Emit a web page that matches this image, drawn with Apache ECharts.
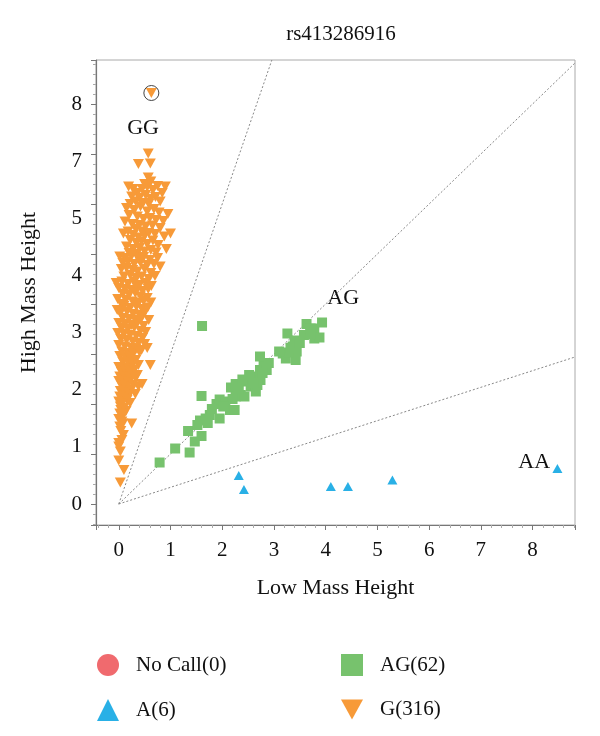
<!DOCTYPE html>
<html>
<head>
<meta charset="utf-8">
<title>rs413286916</title>
<script src="https://cdn.jsdelivr.net/npm/echarts@6/dist/echarts.min.js"></script>
<style>
  html, body { margin: 0; padding: 0; background: #fff; }
  #chart { width: 600px; height: 736px; }
</style>
</head>
<body>
<div id="chart"></div>
<script>
// genotype cluster plot
const chartTitle = 'rs413286916'
const xName = 'Low Mass Height'
const yName = 'High Mass Height'

// printed y tick labels (the figure skips 6)
const yTickLabels = ['0', '1', '2', '3', '4', '5', '7', '8']

const noCall = []

const aPoints = [
  [2.32, 0.57], [2.42, 0.29], [4.10, 0.35], [4.43, 0.35], [5.29, 0.48], [8.48, 0.71]
]

const agPoints = [
  [0.79, 0.83], [1.09, 1.11], [1.37, 1.03], [1.34, 1.46], [1.47, 1.25], [1.60, 1.36],
  [1.57, 1.67], [1.68, 1.71], [1.76, 1.78], [1.95, 1.71], [1.60, 2.16], [1.61, 3.56],
  [1.89, 2.00], [1.95, 2.09], [2.06, 2.05], [2.15, 1.88], [2.24, 1.88], [2.17, 2.33],
  [2.26, 2.40], [2.26, 2.15], [2.36, 2.18], [2.43, 2.15], [2.47, 2.45], [2.55, 2.35],
  [2.65, 2.25], [2.65, 2.55], [2.73, 2.68], [2.80, 2.78], [2.86, 2.68], [2.73, 2.95],
  [2.74, 2.48], [2.68, 2.38], [3.17, 3.01], [3.26, 3.41], [3.23, 2.91], [3.36, 3.15],
  [3.40, 3.27], [3.44, 3.05], [3.42, 2.88], [3.29, 3.03], [3.58, 3.38], [3.63, 3.60],
  [3.71, 3.51], [3.78, 3.51], [3.78, 3.31], [3.88, 3.33], [3.93, 3.63], [2.39, 2.49],
  [2.20, 2.10], [1.80, 1.90], [1.52, 1.58], [2.52, 2.58], [2.78, 2.62], [2.90, 2.82],
  [3.32, 3.12], [3.50, 3.22], [3.70, 3.40], [2.02, 1.95], [2.60, 2.42], [3.10, 3.05],
  [1.72, 1.62], [2.32, 2.30]
]

const gPoints = [
  [0.63, 8.22],
  [0.57, 7.01], [0.38, 6.80], [0.61, 6.81], [0.57, 6.53], [0.50, 6.40], [0.62, 6.45],
  [0.19, 6.35], [0.28, 6.30], [0.36, 6.22], [0.45, 6.30], [0.55, 6.34], [0.66, 6.28],
  [0.75, 6.36], [0.90, 6.35], [0.84, 6.22], [0.25, 6.15], [0.40, 6.12], [0.52, 6.18],
  [0.62, 6.10], [0.71, 6.14], [0.33, 6.05], [0.47, 6.02], [0.58, 6.00], [0.80, 6.05],
  [0.22, 6.00],
  [0.15, 5.92], [0.30, 5.88], [0.42, 5.95], [0.55, 5.85], [0.68, 5.90], [0.78, 5.83],
  [0.95, 5.80], [0.20, 5.78], [0.36, 5.75], [0.48, 5.70], [0.60, 5.72], [0.72, 5.68],
  [0.86, 5.66], [0.12, 5.65], [0.26, 5.60], [0.40, 5.58], [0.52, 5.55], [0.65, 5.57],
  [0.80, 5.52], [0.33, 5.50], [0.45, 5.45],
  [0.09, 5.41], [0.18, 5.45], [0.28, 5.38], [0.38, 5.33], [0.50, 5.36], [0.58, 5.42],
  [0.70, 5.40], [1.00, 5.41], [0.88, 5.35], [0.22, 5.28], [0.34, 5.22], [0.44, 5.25],
  [0.55, 5.20], [0.66, 5.27], [0.76, 5.18], [0.15, 5.15], [0.28, 5.10], [0.40, 5.12],
  [0.50, 5.05], [0.62, 5.08], [0.92, 5.10], [0.20, 5.02], [0.35, 5.00], [0.72, 5.03],
  [0.02, 4.95], [0.12, 4.92], [0.25, 4.97], [0.38, 4.90], [0.48, 4.94], [0.60, 4.88],
  [0.75, 4.92], [0.08, 4.82], [0.18, 4.85], [0.30, 4.80], [0.42, 4.83], [0.55, 4.78],
  [0.68, 4.80], [0.80, 4.75], [0.05, 4.70], [0.15, 4.72], [0.27, 4.68], [0.36, 4.65],
  [0.50, 4.70], [0.62, 4.62], [0.22, 4.58], [0.44, 4.55], [0.10, 4.55], [0.33, 4.52],
  [0.58, 4.50], [0.70, 4.56],
  [-0.05, 4.42], [0.06, 4.45], [0.18, 4.40], [0.30, 4.44], [0.40, 4.38], [0.52, 4.42],
  [0.63, 4.36], [0.00, 4.32], [0.12, 4.30], [0.24, 4.28], [0.35, 4.33], [0.46, 4.26],
  [0.57, 4.30], [0.08, 4.20], [0.20, 4.18], [0.32, 4.22], [0.42, 4.15], [0.55, 4.12],
  [-0.02, 4.10], [0.14, 4.08], [0.27, 4.05], [0.38, 4.02], [0.48, 4.06], [0.62, 4.03],
  [0.05, 4.00],
  [0.10, 3.96], [0.22, 3.92], [0.34, 3.95], [0.45, 3.90], [0.56, 3.93], [-0.03, 3.88],
  [0.03, 3.82], [0.16, 3.85], [0.28, 3.80], [0.40, 3.78], [0.50, 3.83], [0.08, 3.72],
  [0.20, 3.70], [0.32, 3.68], [0.44, 3.72], [0.58, 3.68], [0.00, 3.62], [0.12, 3.60],
  [0.25, 3.58], [0.36, 3.62], [0.48, 3.56], [0.06, 3.52], [0.18, 3.50], [0.30, 3.53],
  [0.42, 3.46], [0.52, 3.44], [-0.02, 3.42], [0.10, 3.40], [0.22, 3.38], [0.34, 3.36],
  [0.46, 3.32], [0.04, 3.30], [0.15, 3.28], [0.27, 3.25], [0.38, 3.22], [0.50, 3.20],
  [0.00, 3.18], [0.12, 3.15], [0.24, 3.12], [0.33, 3.10], [0.44, 3.08], [0.06, 3.05],
  [0.18, 3.02], [0.28, 3.00], [0.40, 3.04], [0.55, 3.12],
  [0.02, 2.96], [0.12, 2.94], [0.22, 2.92], [0.33, 2.88], [0.08, 2.84], [0.18, 2.82],
  [0.27, 2.80], [0.38, 2.78], [0.61, 2.78], [0.00, 2.74], [0.10, 2.72], [0.20, 2.70],
  [0.30, 2.68], [0.05, 2.64], [0.15, 2.62], [0.24, 2.60], [0.36, 2.58], [0.02, 2.55],
  [0.13, 2.52], [0.22, 2.50], [0.32, 2.52],
  [0.00, 2.46], [0.10, 2.44], [0.19, 2.42], [0.28, 2.38], [0.38, 2.35], [0.06, 2.36],
  [0.14, 2.32], [0.24, 2.28], [0.03, 2.26], [0.12, 2.22], [0.20, 2.18], [0.32, 2.20],
  [0.45, 2.40], [0.02, 2.15], [0.09, 2.12], [0.16, 2.08], [0.22, 2.02], [0.00, 2.05],
  [0.06, 2.00],
  [0.03, 1.95], [0.10, 1.92], [0.04, 1.88], [0.14, 1.86], [0.02, 1.81], [0.08, 1.76],
  [0.00, 1.70], [0.06, 1.65], [0.08, 1.61], [0.25, 1.61], [0.02, 1.55],
  [0.04, 1.46], [0.09, 1.38], [0.06, 1.28], [0.00, 1.22], [0.00, 1.15], [0.03, 1.05],
  [0.00, 0.87], [0.10, 0.68], [0.03, 0.43]
]

// circled outlier
const ringPoint = [[0.63, 8.22]]

// cluster labels
const clusterLabels = [
  { name: 'GG', value: [0.47, 7.52] },
  { name: 'AG', value: [4.34, 4.12] },
  { name: 'AA', value: [8.03, 0.84] }
]

// dotted guide lines from the origin (slopes 3, 1, 1/3)
const guideLines = [
  [[0, 0], [2.96, 8.88]],
  [[0, 0], [8.82, 8.82]],
  [[0, 0], [8.82, 2.94]]
]

const xRange = [-0.44, 8.82]
const yRange = [-0.42, 8.88]

const font = 'Liberation Serif'
const ink = '#111'
const colors = {
  noCall: '#f06a6e',
  a: '#29b0e6',
  ag: '#77c26d',
  g: '#f79a38'
}
const downTri = 'path://M0,0L10,0L5,9Z'

const chart = echarts.init(document.getElementById('chart'))

const axisCommon = {
  type: 'value',
  splitNumber: 9,
  splitLine: { show: false },
  axisLine: { onZero: false, lineStyle: { color: '#777', width: 1.2 } },
  axisTick: { length: 5, lineStyle: { color: '#777' } },
  minorTick: { show: true, splitNumber: 5, length: 3, lineStyle: { color: '#aaa' } },
  nameLocation: 'middle',
  nameTextStyle: { fontFamily: font, fontSize: 22, color: ink }
}

const option = {
  animation: false,
  backgroundColor: '#fff',
  textStyle: { fontFamily: font },
  title: {
    text: chartTitle,
    left: 336,
    textAlign: 'center',
    top: 19,
    textStyle: { fontFamily: font, fontSize: 21, fontWeight: 'normal', color: ink }
  },
  grid: {
    left: 96,
    right: 25,
    top: 60,
    bottom: 211,
    show: true,
    borderColor: '#aaa',
    borderWidth: 1
  },
  xAxis: Object.assign({}, axisCommon, {
    min: xRange[0],
    max: xRange[1],
    name: xName,
    nameGap: 52,
    axisLabel: {
      showMinLabel: false,
      showMaxLabel: false,
      margin: 15,
      fontFamily: font,
      fontSize: 21,
      color: ink
    }
  }),
  yAxis: Object.assign({}, axisCommon, {
    min: yRange[0],
    max: yRange[1],
    name: yName,
    nameGap: 56,
    axisLabel: {
      customValues: yTickLabels.map((t, i) => i * 8 / (yTickLabels.length - 1)),
      formatter: v => yTickLabels[Math.round(v * (yTickLabels.length - 1) / 8)],
      margin: 14,
      fontFamily: font,
      fontSize: 21,
      color: ink
    }
  }),
  legend: [
    {
      orient: 'vertical',
      left: 92,
      top: 649,
      itemWidth: 22,
      itemHeight: 22,
      itemGap: 23,
      textStyle: { fontFamily: font, fontSize: 21, color: ink, padding: [0, 0, 0, 12] },
      data: [
        { name: 'No Call(0)', icon: 'circle' },
        { name: 'A(6)', icon: 'triangle' }
      ]
    },
    {
      orient: 'vertical',
      left: 336,
      top: 649,
      itemWidth: 22,
      itemHeight: 22,
      itemGap: 23,
      textStyle: { fontFamily: font, fontSize: 21, color: ink, padding: [0, 0, 0, 12] },
      data: [
        { name: 'AG(62)', icon: 'rect' },
        { name: 'G(316)', icon: downTri }
      ]
    }
  ],
  series: [
    ...guideLines.map(seg => ({
      type: 'line',
      data: seg,
      symbol: 'none',
      silent: true,
      z: 1,
      lineStyle: { color: '#888', width: 1, type: [2, 2] }
    })),
    {
      name: 'No Call(0)',
      type: 'scatter',
      symbol: 'circle',
      itemStyle: { color: colors.noCall, opacity: 1 },
      data: noCall
    },
    {
      name: 'A(6)',
      type: 'scatter',
      symbol: 'triangle',
      symbolSize: [10, 9],
      itemStyle: { color: colors.a, opacity: 1 },
      data: aPoints
    },
    {
      name: 'AG(62)',
      type: 'scatter',
      symbol: 'rect',
      symbolSize: 10,
      itemStyle: { color: colors.ag, opacity: 1 },
      data: agPoints
    },
    {
      name: 'G(316)',
      type: 'scatter',
      symbol: downTri,
      symbolSize: [11, 10],
      itemStyle: { color: colors.g, opacity: 1 },
      data: gPoints
    },
    {
      type: 'scatter',
      symbol: 'circle',
      symbolSize: 15,
      silent: true,
      itemStyle: { color: 'rgba(0,0,0,0)', borderColor: '#444', borderWidth: 1, opacity: 1 },
      data: ringPoint
    },
    {
      type: 'scatter',
      symbolSize: 0,
      silent: true,
      itemStyle: { opacity: 1 },
      label: {
        show: true,
        position: 'inside',
        formatter: p => p.name,
        fontFamily: font,
        fontSize: 22,
        color: ink
      },
      data: clusterLabels
    }
  ]
}

chart.setOption(option)
</script>
</body>
</html>
